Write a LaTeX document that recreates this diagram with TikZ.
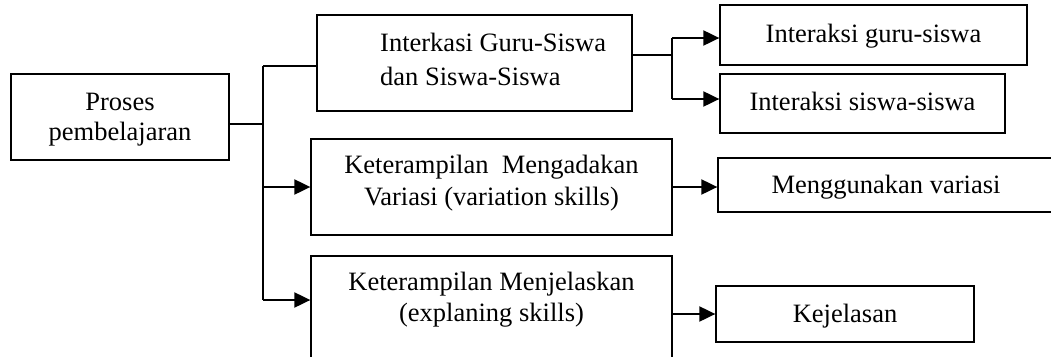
\documentclass[tikz,border=0pt]{standalone}
\usepackage{fontspec}
\setmainfont{Liberation Serif}
\usetikzlibrary{arrows.meta,calc}
\begin{document}
\begin{tikzpicture}[x=1pt,y=-1pt,
  box/.style={draw,line width=1.3pt,rectangle,inner sep=0pt},
  txt/.style={anchor=base,inner sep=0pt,font=\fontsize{26.5}{30}\selectfont},
  link/.style={line width=2pt},
  arr/.style={link,-{Triangle[length=16pt,width=15pt]}}]
\clip (0,0) rectangle (1051,356);

% boxes
\node[box,minimum width=218pt,minimum height=86pt] (proses) at (120,117) {};
\node[box,minimum width=315pt,minimum height=96pt] (inter) at (474.5,63) {};
\node[box,minimum width=361pt,minimum height=96pt] (var) at (491.5,187) {};
\node[box,minimum width=361pt,minimum height=130pt] (jel) at (491.5,321) {};
\node[box,minimum width=307pt,minimum height=60pt] (ig) at (873.5,35) {};
\node[box,minimum width=285pt,minimum height=59pt] (is) at (862.5,103.5) {};
\node[box,minimum width=336pt,minimum height=54pt] (mv) at (886,185) {};
\node[box,minimum width=258pt,minimum height=56pt] (kj) at (845,314) {};

% labels
\node[txt] (t1) at (120,110) {Proses};
\node[txt] (t2) at (120,140) {pembelajaran};
\node[txt,anchor=base west] (t3) at (380,51) {Interkasi Guru-Siswa};
\node[txt,anchor=base west] (t4) at (380,85) {dan Siswa-Siswa};
\node[txt] (t5) at (491.5,173) {Keterampilan\ \ Mengadakan};
\node[txt] (t6) at (491.5,205) {Variasi (variation skills)};
\node[txt] (t7) at (491.5,290) {Keterampilan Menjelaskan};
\node[txt] (t8) at (491.5,321) {(explaning skills)};
\node[txt] (t9) at (873.5,42) {Interaksi guru-siswa};
\node[txt] (t10) at (862.5,110) {Interaksi siswa-siswa};
\node[txt] (t11) at (886,193) {Menggunakan variasi};
\node[txt] (t12) at (845,322) {Kejelasan};

% trunk on the left
\coordinate (ttop) at (263,66);
\coordinate (tmid) at (263,124);
\coordinate (tbot) at (263,300);
\draw[link] (proses.east |- tmid) -- (tmid);
\draw[link] (ttop) -- (tbot);
\draw[link] (ttop) -- (ttop -| inter.west);
\draw[arr] (var.west -| tmid) -- (var.west);
\draw[arr] (tbot) -- (tbot -| jel.west);

% split after the interaction box
\coordinate (split) at (672,55);
\coordinate (sa) at (672,38);
\coordinate (sb) at (672,99);
\draw[link] (split -| inter.east) -- (split);
\draw[link] (sa) -- (sb);
\draw[arr] (sa) -- (sa -| ig.west);
\draw[arr] (sb) -- (sb -| is.west);

% remaining branches
\draw[arr] (var.east) -- (var.east -| mv.west);
\draw[arr] (jel.east |- kj.west) -- (kj.west);
\end{tikzpicture}
\end{document}
